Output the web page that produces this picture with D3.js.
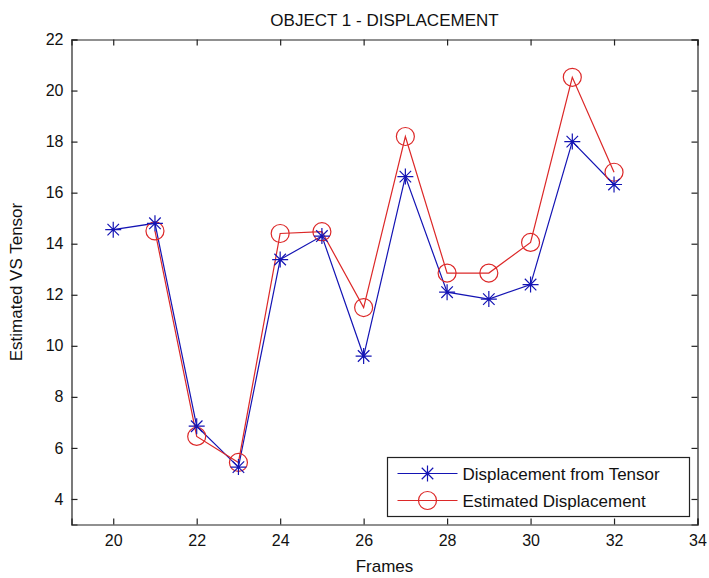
<!DOCTYPE html>
<html>
<head>
<meta charset="utf-8">
<script src="https://cdn.jsdelivr.net/npm/d3@7/dist/d3.min.js"></script>
<style>
  html, body { margin: 0; padding: 0; background: #fff; }
  svg text { font-family: "Liberation Sans Narrow", "Liberation Sans", Arial, sans-serif; fill: #111; }
</style>
</head>
<body>
<svg id="chart" width="709" height="578"></svg>
<script>
// Frame numbers and the two displacement series
const framesTensor = [20, 21, 22, 23, 24, 25, 26, 27, 28, 29, 30, 31, 32];
const tensorDisp   = [14.55, 14.8, 6.85, 5.25, 13.38, 14.3, 9.6, 16.63, 12.1, 11.83, 12.4, 18.0, 16.32];
const framesEst    = [21, 22, 23, 24, 25, 26, 27, 28, 29, 30, 31, 32];
const estDisp      = [14.5, 6.45, 5.43, 14.4, 14.47, 11.5, 18.2, 12.85, 12.85, 14.05, 20.52, 16.8];

const xTicks = [20, 22, 24, 26, 28, 30, 32, 34];
const yTicks = [4, 6, 8, 10, 12, 14, 16, 18, 20, 22];

const titleText = "OBJECT 1 - DISPLACEMENT";
const xLabel = "Frames";
const yLabel = "Estimated VS Tensor";
const legendLabels = ["Displacement from Tensor", "Estimated Displacement"];

const svg = d3.select("#chart");
const plotLeft = 71.5, plotRight = 697.5, plotTop = 39.5, plotBottom = 524.5;

const x = d3.scaleLinear().domain([19, 34]).range([plotLeft, plotRight]);
const y = d3.scaleLinear().domain([3, 22]).range([plotBottom, plotTop]);

const tickLen = 6;
const fontSize = 16;

// axes box: ticks inward on all four sides
const axG = svg.append("g");
axG.append("g").attr("transform", `translate(0,${plotBottom})`)
  .call(d3.axisBottom(x).tickValues(xTicks).tickSize(-tickLen).tickPadding(10).tickFormat(d3.format("d")));
axG.append("g").attr("transform", `translate(0,${plotTop})`)
  .call(d3.axisTop(x).tickValues(xTicks).tickSize(-tickLen).tickFormat(""));
axG.append("g").attr("transform", `translate(${plotLeft},0)`)
  .call(d3.axisLeft(y).tickValues(yTicks).tickSize(-tickLen).tickPadding(8).tickFormat(d3.format("d")));
axG.append("g").attr("transform", `translate(${plotRight},0)`)
  .call(d3.axisRight(y).tickValues(yTicks).tickSize(-tickLen).tickFormat(""));
axG.selectAll(".domain").attr("stroke", "#222").attr("stroke-width", 1.2);
axG.selectAll(".tick line").attr("stroke", "#222").attr("stroke-width", 1.2);
axG.selectAll(".tick text").attr("font-size", fontSize).attr("fill", "#111")
  .style("font-family", "'Liberation Sans Narrow', 'Liberation Sans', Arial, sans-serif");

// series
const tensorPts = framesTensor.map((f, i) => [f, tensorDisp[i]]);
const estPts = framesEst.map((f, i) => [f, estDisp[i]]);
const line = d3.line().x(d => x(d[0])).y(d => y(d[1]));

const blue = "#1414b4", red = "#dc2828";

function asterisk(g, cx, cy, r, color) {
  const a = r * 0.72;
  g.append("path")
    .attr("d", `M${cx - r},${cy}L${cx + r},${cy}M${cx},${cy - r}L${cx},${cy + r}` +
               `M${cx - a},${cy - a}L${cx + a},${cy + a}M${cx - a},${cy + a}L${cx + a},${cy - a}`)
    .attr("stroke", color).attr("stroke-width", 1.2).attr("fill", "none");
}
function circleMark(g, cx, cy, r, color) {
  g.append("circle").attr("cx", cx).attr("cy", cy).attr("r", r)
    .attr("fill", "none").attr("stroke", color).attr("stroke-width", 1.2);
}

const plot = svg.append("g");
plot.append("path").datum(tensorPts).attr("d", line)
  .attr("fill", "none").attr("stroke", blue).attr("stroke-width", 1.2);
plot.append("path").datum(estPts).attr("d", line)
  .attr("fill", "none").attr("stroke", red).attr("stroke-width", 1.2);

estPts.forEach(d => circleMark(plot, x(d[0]), y(d[1]), 9, red));
tensorPts.forEach(d => asterisk(plot, x(d[0]), y(d[1]), 8, blue));

// legend
const lg = svg.append("g");
const lgX = 387.5, lgY = 457.5, lgW = 302, lgH = 59;
lg.append("rect").attr("x", lgX).attr("y", lgY).attr("width", lgW).attr("height", lgH)
  .attr("fill", "#fff").attr("stroke", "#222").attr("stroke-width", 1.2);
const rows = [lgY + 16, lgY + 43];
[blue, red].forEach((c, i) => {
  lg.append("line").attr("x1", lgX + 10).attr("x2", lgX + 70)
    .attr("y1", rows[i]).attr("y2", rows[i]).attr("stroke", c).attr("stroke-width", 1.2);
  if (i === 0) asterisk(lg, lgX + 40, rows[i], 8, c);
  else circleMark(lg, lgX + 40, rows[i], 9, c);
  lg.append("text").attr("x", lgX + 75).attr("y", rows[i]).attr("dy", "0.36em")
    .attr("font-size", 17).text(legendLabels[i]);
});

// title and axis labels
svg.append("text").attr("x", (plotLeft + plotRight) / 2).attr("y", 26)
  .attr("text-anchor", "middle").attr("font-size", 17).text(titleText);
svg.append("text").attr("x", (plotLeft + plotRight) / 2).attr("y", 572)
  .attr("text-anchor", "middle").attr("font-size", 17).text(xLabel);
svg.append("text").attr("transform", `translate(22,${(plotTop + plotBottom) / 2}) rotate(-90)`)
  .attr("text-anchor", "middle").attr("font-size", 17).text(yLabel);
</script>
</body>
</html>
